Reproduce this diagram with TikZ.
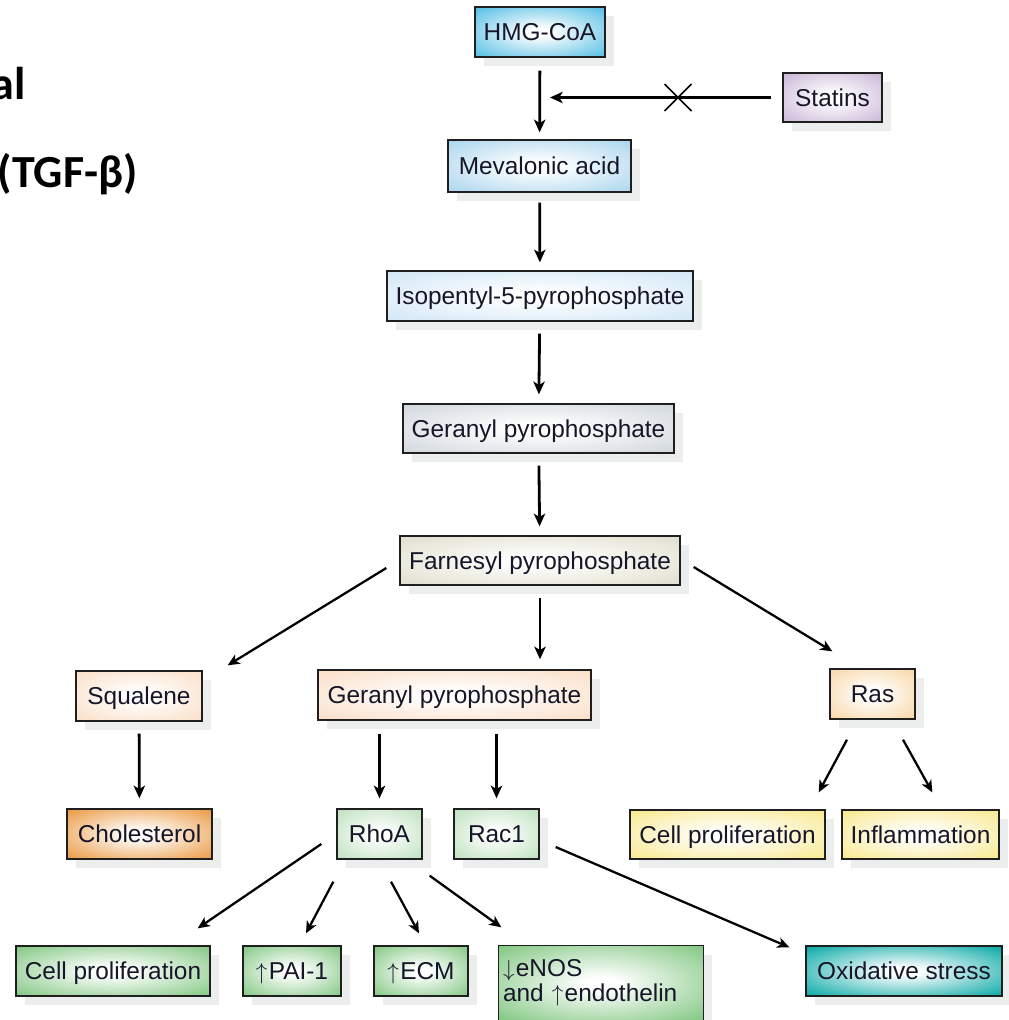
\documentclass[tikz,border=0pt]{standalone}
\usepackage{fontspec}
\setmainfont{Liberation Sans}
\newfontfamily\titlefont{Carlito}
\usetikzlibrary{arrows.meta,calc}

\definecolor{cHMG}{RGB}{80,188,228}
\definecolor{cMEV}{RGB}{168,212,238}
\definecolor{cSTA}{RGB}{200,180,214}
\definecolor{cISO}{RGB}{208,230,246}
\definecolor{cGER}{RGB}{208,214,220}
\definecolor{cFAR}{RGB}{222,222,204}
\definecolor{cSQU}{RGB}{250,222,198}
\definecolor{cRAS}{RGB}{248,214,165}
\definecolor{cCHO}{RGB}{234,150,60}
\definecolor{cRHO}{RGB}{188,224,188}
\definecolor{cYEL}{RGB}{248,232,140}
\definecolor{cGRN}{RGB}{128,198,128}
\definecolor{cOXI}{RGB}{0,166,163}
\definecolor{shadowc}{RGB}{236,238,238}
\definecolor{txt}{RGB}{22,22,40}

\newcommand{\mkshade}[1]{\pgfdeclareradialshading{s#1}{\pgfpoint{0bp}{0bp}}{color(0bp)=(white); color(4bp)=(white); color(36bp)=(c#1); color(50bp)=(c#1)}}
\mkshade{HMG}\mkshade{MEV}\mkshade{STA}\mkshade{ISO}\mkshade{GER}\mkshade{FAR}
\mkshade{SQU}\mkshade{RAS}\mkshade{CHO}\mkshade{RHO}\mkshade{YEL}\mkshade{GRN}\mkshade{OXI}

\tikzset{
  box/.style={draw=black!88, line width=1pt, shade, inner sep=0pt, text=txt,
    font=\fontsize{18.3}{21}\selectfont, text height=13.4pt, text depth=0pt},
  edge/.style={draw=black!88, line width=1pt},
  arr/.style={-{Stealth[length=9.5pt,width=8.5pt,inset=2.5pt]}, line width=2.1pt},
  darr/.style={-{Stealth[length=9pt,width=8pt,inset=2.5pt]}, line width=1.7pt},
  ttl/.style={font=\titlefont\bfseries\fontsize{34.5}{38}\selectfont, anchor=base east, inner sep=0pt},
}

% #1 options, #2 name, #3 x1, #4 y1, #5 x2, #6 y2, #7 shade, #8 text
\newcommand{\bx}[8][]{%
  \fill[shadowc] ({#3+9},{#4+9}) rectangle ({#5+9},{#6+9});
  \node[box, shading=#7, minimum width={(#5-#3)*0.75pt}, minimum height={(#6-#4)*0.75pt}, #1]
    (#2) at ({(#3+#5)/2},{(#4+#6)/2}) {#8};
}

\begin{document}
\begin{tikzpicture}[x=0.75pt,y=-0.75pt]
\useasboundingbox (0,0) rectangle (1009,1020);
\clip (0,0) rectangle (1009,1020);

\node[ttl] (t1) at (26,100) {al};
\node[ttl] (t2) at (138,187) {(TGF-β)};

\bx{hmg}{475}{7}{605}{57}{sHMG}{HMG-CoA}
\bx{sta}{783}{73}{882}{122}{sSTA}{Statins}
\bx{mev}{448}{140}{631}{192}{sMEV}{Mevalonic acid}
\bx{iso}{387}{271}{693}{321}{sISO}{Isopentyl-5-pyrophosphate}
\bx{gera}{403}{404}{674}{453}{sGER}{Geranyl pyrophosphate}
\bx{far}{400}{536}{680}{585}{sFAR}{Farnesyl pyrophosphate}
\bx{squ}{76}{671}{202}{721}{sSQU}{Squalene}
\bx{gerb}{318}{670}{591}{720}{sSQU}{Geranyl pyrophosphate}
\bx{ras}{830}{669}{915}{719}{sRAS}{Ras}
\bx{cho}{67}{809}{212}{859}{sCHO}{Cholesterol}
\bx{rho}{337}{809}{422}{859}{sRHO}{RhoA}
\bx{rac}{454}{809}{539}{859}{sRHO}{Rac1}
\bx{cpy}{630}{810}{825}{859}{sYEL}{Cell proliferation}
\bx{inf}{842}{810}{999}{859}{sYEL}{Inflammation}
\bx{cpg}{16}{946}{210}{996}{sGRN}{Cell proliferation}
\bx{pai}{243}{946}{341}{996}{sGRN}{$\uparrow$\kern1pt PAI-1}
\bx{ecm}{374}{946}{468}{996}{sGRN}{$\uparrow$\kern1pt ECM}
\bx[draw=none, align=left, text width={196*0.75pt}, text height=, text depth=, font=\fontsize{18.3}{19}\selectfont]{eno}{499}{946}{703}{1020}{sGRN}{$\downarrow$\kern1pt eNOS\\and $\uparrow$\kern1pt endothelin}
\draw[edge] ([yshift=-15pt]eno.south west) -- (eno.north west) -- (eno.north east) -- ([yshift=-15pt]eno.south east);
\bx{oxi}{806}{946}{1002}{996}{sOXI}{Oxidative stress}

% main chain
\draw[arr, shorten <=9.75pt, shorten >=5.25pt] (hmg) -- (mev);
\draw[arr, shorten <=7.5pt, shorten >=6pt] (mev) -- (iso);
\draw[arr, shorten <=9pt, shorten >=6.75pt] (iso) -- (gera);
\draw[arr, shorten <=9pt, shorten >=6.75pt] (gera) -- (far);
\draw[arr, shorten <=9pt, shorten >=7.5pt] (far.south) -- (far.south |- gerb.north);

% statins inhibition
\coordinate (inh) at (550,97.5);
\coordinate (xm) at (678,97.5);
\draw[arr, shorten <=8.25pt] (sta.west) -- (inh);
\draw[line width=1.1pt] ($(xm)+(-13.5,-13.5)$) -- ($(xm)+(13.5,13.5)$);
\draw[line width=1.1pt] ($(xm)+(-13.5,13.5)$) -- ($(xm)+(13.5,-13.5)$);

% branches from farnesyl
\draw[darr] ($(far.west)+(-13,7.5)$) -- ($(squ.north east)+(25,-5)$);
\draw[darr] ($(far.east)+(13,6.5)$) -- ($(ras.north west)+(3,-17)$);

% second level
\draw[arr, shorten <=9pt, shorten >=7.5pt] (squ) -- (cho);
\draw[arr, shorten <=9.75pt, shorten >=7.5pt] (rho.north |- gerb.south) -- (rho.north);
\draw[arr, shorten <=9.75pt, shorten >=7.5pt] (rac.north |- gerb.south) -- (rac.north);

% ras
\draw[darr] ($(ras.south)+(-25.5,20)$) -- ($(cpy.north east)+(-7,-17)$);
\draw[darr] ($(ras.south)+(30.5,20)$) -- ($(inf.north west)+(91,-17)$);

% rhoA
\draw[darr] ($(rho.west)+(-15,10)$) -- ($(cpg.north east)+(-13,-17)$);
\draw[darr] ($(rho.south west)+(-3,22)$) -- ($(pai.north)+(14,-12)$);
\draw[darr] ($(rho.south)+(11.5,22)$) -- ($(ecm.north)+(-2,-12)$);
\draw[darr] ($(rho.south east)+(7,16)$) -- ($(eno.north west)+(3,-18)$);

% rac1
\draw[darr] ($(rac.east)+(16,13)$) -- ($(oxi.north west)+(-16,2)$);
\end{tikzpicture}
\end{document}
